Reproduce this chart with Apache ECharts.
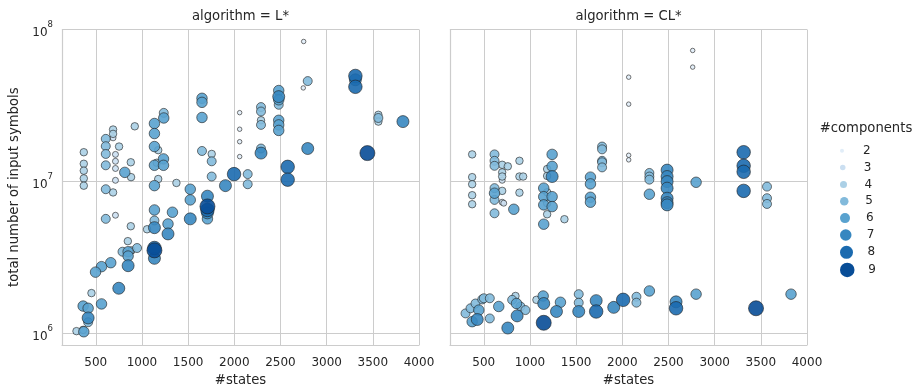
<!DOCTYPE html>
<html><head><meta charset="utf-8">
<script src="https://cdn.jsdelivr.net/npm/echarts@6/dist/echarts.min.js"></script>
<style>html,body{margin:0;padding:0;background:#fff}#c{width:922px;height:388px}</style>
</head><body><div id="c"></div>
<script>
// ---- data: algorithm = L* ----
const lStates = [
  370,370,370,370,370, 608,608,608,608,608,608, 687,687,687,687, 752, 713,713,713,713,713,
  922,879,814,882,879, 1236,1236,1135,1135,1135,1176,1233,1135,1233,1160,1176,1135,1373,
  1523,1523, 1650,1650,1650,1650, 1755,1755,1755, 1997,1904, 2058,2058,2058,2058,
  2751,2795,2747, 2481,2481,2481,2481,2481,2481,2481, 2289,2289,2289,2289,2289,2289,
  2145,2145, 2795, 2578,2578, 3311,3311,3311, 3560,3560,3560, 3826, 3441,
  1709,1709,1709,1709,1709, 1135,1330,1523,1135,1135,1055,1282,1282,
  847,789,850,886,947,850,850, 1135,1135,1135, 662,562,497,749,453,562,363,417,417,417,291,363,370
];
const lSymbols = [
  1.56e7,1.31e7,1.18e7,1.05e7,9.4e6, 1.91e7,1.71e7,1.52e7,1.28e7,8.91e6,5.69e6, 2.20e7,2.06e7,1.94e7,8.49e6, 1.70e7, 1.51e7,1.36e7,1.22e7,1.02e7,6.01e6,
  2.31e7,1.34e7,1.15e7,1.07e7,5.09e6, 2.83e7,2.62e7,2.41e7,2.07e7,1.70e7,1.61e7,1.41e7,1.28e7,1.28e7,1.33e7,1.04e7,9.41e6,9.8e6,
  8.91e6,7.58e6, 3.53e7,3.32e7,2.64e7,1.59e7, 1.52e7,1.36e7,1.08e7, 1.12e7,9.41e6, 2.84e7,2.21e7,1.83e7,1.46e7,
  8.34e7,4.58e7,4.13e7, 3.97e7,3.62e7,3.45e7,3.20e7,2.53e7,2.36e7,2.17e7, 3.09e7,2.89e7,2.53e7,2.36e7,1.65e7,1.54e7,
  1.12e7,9.61e6, 1.65e7, 1.25e7,1.03e7, 4.95e7,4.67e7,4.20e7, 2.75e7,2.62e7,2.48e7, 2.48e7, 1.54e7,
  8.02e6,6.87e6,6.51e6,6.23e6,5.69e6, 6.51e6,6.29e6,5.69e6,5.55e6,4.98e6,4.86e6,5.27e6,4.53e6,
  4.06e6,3.46e6,3.46e6,3.53e6,3.66e6,2.80e6,3.24e6, 3.66e6,3.53e6,3.13e6, 2.93e6,2.76e6,2.54e6,1.99e6,1.85e6,1.57e6,1.52e6,1.47e6,1.27e6,1.19e6,1.04e6,1.06e6,1.03e6
];
const lComps = [
  4,4,4,4,4, 5,5,5,5,5,5, 4,4,3,4, 4, 3,3,3,3,3,
  4,4,6,4,4, 5,6,6,6,6,4,6,6,6,4,4,6,4,
  6,6, 6,6,6,5, 4,5,5, 8,7, 2,2,2,2,
  2,5,2, 6,7,6,5,6,6,6, 5,5,4,5,5,7,
  5,5, 7, 8,8, 8,7,8, 4,5,4, 7, 9,
  7,9,8,7,6, 6,6,7,5,7,4,6,7,
  4,5,6,4,5,7,6, 8,9,7, 6,6,6,7,4,6,6,6,7,5,4,4,6
];
// ---- data: algorithm = CL* ----
const cStates = [
  374,374,374,374,374, 616,616,616,616,616,616,616, 699,699,699,699,699,699, 760, 886,886,886, 926, 825, 716,
  1149,1149,1149,1149, 1186,1186,1186,1186,1186, 1240,1240,1240,1240,1240, 1373,
  1655,1655,1655,1655, 1781,1781,1781,1781,1781, 2069,2069,2069,2069, 2293,2293,2293,2293,
  2485,2485,2485,2485,2485,2485,2485, 2762,2762, 2799, 3314,3314,3314,3314, 3567,3567,3567,
  302,356,374,410,429,446,483,500,565,565,662,760,807,843,854,861,897,951,1070,
  1143,1149,1149,1287,1330,1528,1528,1528,1717,1717,1907,2009,2153,2153,2293,2582,2582,2799,3448,3827
];
const cSymbols = [
  1.51e7,1.07e7,9.61e6,8.14e6,7.10e6, 1.51e7,1.37e7,1.27e7,9.06e6,8.39e6,7.58e6,6.19e6, 1.29e7,1.15e7,1.08e7,1.02e7,8.69e6,7.32e6, 1.26e7, 1.37e7,1.08e7,8.46e6, 1.08e7, 6.58e6, 7.21e6,
  9.06e6,7.96e6,7.03e6,5.25e6, 1.21e7,1.09e7,8.51e6,7.21e6,6.10e6, 1.51e7,1.26e7,1.08e7,7.96e6,6.85e6, 5.66e6,
  1.07e7,9.66e6,7.89e6,7.32e6, 1.70e7,1.63e7,1.37e7,1.34e7,1.24e7, 4.86e7,3.23e7,1.49e7,1.39e7, 1.14e7,1.08e7,1.03e7,8.26e6,
  1.19e7,1.08e7,1.0e7,9.06e6,7.78e6,7.27e6,7.03e6, 7.28e7,5.66e7, 9.9e6, 1.56e7,1.27e7,1.16e7,8.69e6, 9.27e6,7.78e6,7.13e6,
  1.36e6,1.47e6,1.20e6,1.58e6,1.24e6,1.43e6,1.68e6,1.71e6,1.71e6,1.26e6,1.51e6,1.09e6,1.67e6,1.77e6,1.58e6,1.31e6,1.51e6,1.43e6,1.67e6,
  1.77e6,1.58e6,1.18e6,1.40e6,1.61e6,1.82e6,1.60e6,1.40e6,1.65e6,1.40e6,1.49e6,1.67e6,1.75e6,1.60e6,1.91e6,1.62e6,1.47e6,1.82e6,1.47e6,1.82e6
];
const cComps = [
  4,4,4,4,4, 5,5,5,5,6,5,5, 4,4,4,3,4,3, 4, 4,4,4, 4, 6, 3,
  6,6,6,6, 4,4,4,4,4, 6,6,7,6,6, 4,
  6,6,6,6, 5,5,5,5,5, 2,2,2,2, 5,5,5,6,
  7,7,7,7,7,7,7, 2,2, 6, 8,8,8,8, 5,5,5,
  5,5,6,5,7,6,5,5,5,5,6,7,5,4,6,7,5,5,4,
  6,7,9,7,6,5,5,7,7,8,7,8,5,5,6,7,8,6,9,6
];
const components = [2,3,4,5,6,7,8,9];
const compColors = ['#e1edf8','#cbdff1','#abd0e6','#82badb','#59a2cf','#3787c0','#1b6aaf','#084d97'];
const panelTitles = ['algorithm = L*','algorithm = CL*'];

// ---- chart ----
const txt = '#262626', gridCol = '#cccccc';
const font = 'DejaVu Sans';
const FS_TICK = 12, FS_LAB = 13.2;
const legendD = c => 4 + (c - 2) * 1.5;
const grids = [
  {left: 62, top: 29.5, width: 357, height: 315.5, containLabel: false, outerBoundsMode: 'none'},
  {left: 450, top: 29.5, width: 357, height: 315.5, containLabel: false, outerBoundsMode: 'none'}
];
const panels = [[lStates, lSymbols, lComps], [cStates, cSymbols, cComps]];
const series = [];
panels.forEach((p, pi) => {
  components.forEach((c, ci) => {
    const data = [];
    p[0].forEach((s, k) => { if (p[2][k] === c) data.push([s, p[1][k]]); });
    series.push({
      type: 'scatter', name: String(c), xAxisIndex: pi, yAxisIndex: pi,
      data, symbol: 'circle', symbolSize: legendD(c) + 0.5,
      itemStyle: {color: compColors[ci], borderColor: 'rgba(30,30,30,0.75)', borderWidth: 0.9, opacity: 0.9},
      emphasis: {disabled: true}, silent: true, z: 2 + ci
    });
  });
});
const xAxes = [0, 1].map(i => ({
  type: 'value', gridIndex: i, min: 134, max: 4000, splitNumber: 8,
  axisLine: {show: true, lineStyle: {color: gridCol, width: 1.2}},
  axisTick: {show: false},
  axisLabel: {showMinLabel: false, showMaxLabel: true, fontSize: FS_TICK, color: txt, margin: 12, fontFamily: font,
              formatter: v => String(v)},
  splitLine: {show: true, lineStyle: {color: gridCol, width: 1}},
  name: '#states', nameLocation: 'middle', nameGap: 29,
  nameTextStyle: {fontSize: FS_LAB, color: txt, fontFamily: font}
}));
const yAxes = [0, 1].map(i => ({
  type: 'log', logBase: 10, gridIndex: i, min: 8.43e5, max: 1e8,
  axisLine: {show: true, lineStyle: {color: gridCol, width: 1.2}},
  axisTick: {show: false},
  axisLabel: i === 0 ? {
    showMinLabel: false, margin: 9, fontFamily: font,
    formatter: v => '{b|10}{s|' + Math.round(Math.log10(v)) + '}',
    rich: {
      b: {fontSize: FS_TICK, color: txt, fontFamily: font, lineHeight: 19, verticalAlign: 'bottom'},
      s: {fontSize: 8.5, color: txt, fontFamily: font, lineHeight: 19, verticalAlign: 'top'}
    }
  } : {show: false},
  splitLine: {show: true, lineStyle: {color: gridCol, width: 1}},
  name: i === 0 ? 'total number of input symbols' : '',
  nameLocation: 'middle', nameGap: 41,
  nameTextStyle: {fontSize: FS_LAB, color: txt, fontFamily: font}
}));
const titleStyle = {fontSize: FS_LAB, fontWeight: 'normal', color: txt, fontFamily: font};
const titles = [
  {text: panelTitles[0], left: 240.5, top: 10, textAlign: 'center', padding: 0, textStyle: titleStyle},
  {text: panelTitles[1], left: 628.5, top: 10, textAlign: 'center', padding: 0, textStyle: titleStyle},
  {text: '#components', left: 866, top: 122, textAlign: 'center', padding: 0, textStyle: titleStyle}
];
const legends = components.map((c, i) => {
  const d = legendD(c);
  const cy = 146.7 + i * 17.6;
  return {
    data: [String(c)], left: 840, top: cy - d / 2, orient: 'vertical',
    itemWidth: 32, itemHeight: d, padding: 0, selectedMode: false, icon: 'circle',
    itemStyle: {borderWidth: 0, opacity: 1},
    textStyle: {fontSize: FS_TICK, color: txt, fontFamily: font}
  };
});
const chart = echarts.init(document.getElementById('c'), null, {renderer: 'canvas'});
chart.setOption({
  animation: false, backgroundColor: '#ffffff',
  textStyle: {fontFamily: font},
  title: titles, legend: legends, grid: grids,
  xAxis: xAxes, yAxis: yAxes, series
});
</script></body></html>
